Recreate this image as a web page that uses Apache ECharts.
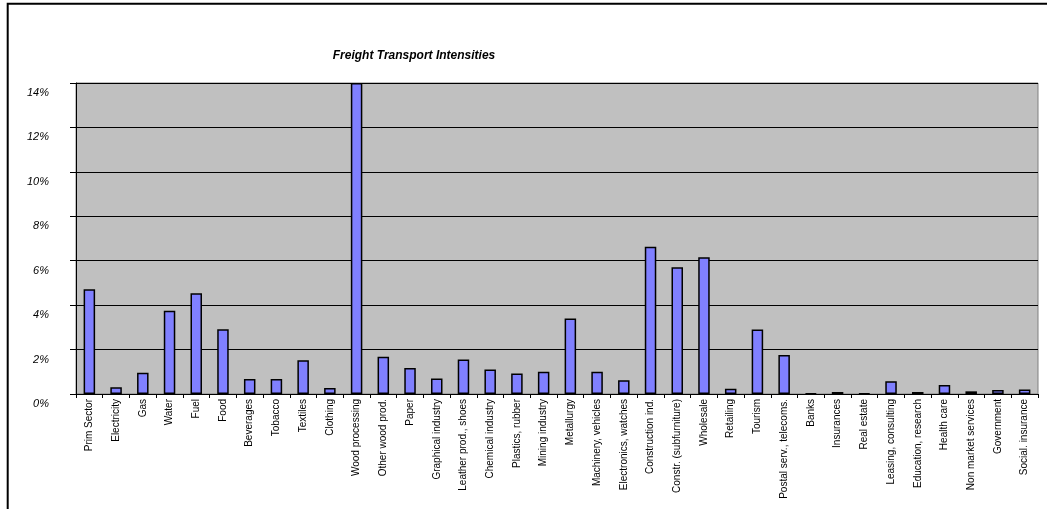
<!DOCTYPE html>
<html>
<head>
<meta charset="utf-8">
<script src="https://cdn.jsdelivr.net/npm/echarts@6/dist/echarts.min.js"></script>
<style>
html,body{margin:0;padding:0;background:#fff;}
#chart{width:1047px;height:509px;}
</style>
</head>
<body>
<div id="chart"></div>
<script>
const categories = ["Prim Sector","Electricity","Gas","Water","Fuel","Food","Beverages","Tobacco","Textiles","Clothing","Wood processing","Other wood prod.","Paper","Graphical industry","Leather prod., shoes","Chemical industry","Plastics, rubber","Mining industry","Metallurgy","Machinery, vehicles","Electronics, watches","Construction ind.","Constr. (subfurniture)","Wholesale","Retailing","Tourism","Postal serv., telecoms.","Banks","Insurances","Real estate","Leasing, consulting","Education, research","Health care","Non market services","Government","Social. insurance"];
const intensities = [4.72,0.30,0.96,3.75,4.53,2.91,0.68,0.68,1.52,0.27,14.0,1.68,1.17,0.70,1.55,1.10,0.92,1.00,3.40,1.00,0.62,6.63,5.71,6.16,0.24,2.90,1.76,0.03,0.09,0.03,0.57,0.09,0.40,0.12,0.18,0.20];
const yTicks = {min:0, max:14, interval:2};
const titleText = "Freight Transport Intensities";

const chart = echarts.init(document.getElementById('chart'), null, {renderer:'canvas'});
chart.setOption({
  animation:false,
  backgroundColor:'#ffffff',
  title:{
    text:titleText, left:409, top:45, textAlign:'center',
    textStyle:{fontFamily:'Liberation Sans, Arial, sans-serif', fontSize:12, fontWeight:'bold', fontStyle:'italic', color:'#000'}
  },
  graphic:[{
    type:'rect', silent:true, z:-1,
    shape:{x:7.7, y:3.8, width:1100, height:600},
    style:{fill:'none', stroke:'#000', lineWidth:2}
  }],
  grid:{left:76, right:9, top:83, bottom:115, show:true, backgroundColor:'#C0C0C0', borderColor:'#808080', borderWidth:1},
  xAxis:{
    type:'category', data:categories, boundaryGap:true,
    axisLine:{show:true, lineStyle:{color:'#000', width:1}},
    axisTick:{show:true, alignWithLabel:false, length:4, inside:false, lineStyle:{color:'#000'}},
    axisLabel:{interval:0, rotate:90, margin:5, fontFamily:'Liberation Sans, Arial, sans-serif', fontSize:10, color:'#000'},
    splitLine:{show:false}
  },
  yAxis:{
    type:'value', min:yTicks.min, max:yTicks.max, interval:yTicks.interval,
    axisLine:{show:true, lineStyle:{color:'#000'}},
    axisTick:{show:true, length:6, lineStyle:{color:'#000'}},
    axisLabel:{formatter:'{value}%', margin:27, fontFamily:'Liberation Sans, Arial, sans-serif', fontSize:11, fontStyle:'italic', color:'#000', verticalAlign:'top', lineHeight:20},
    splitLine:{show:true, lineStyle:{color:'#000', width:1}}
  },
  series:[{
    type:'bar', data:intensities, barWidth:11.5,
    itemStyle:{color:'#8080FF', borderColor:'#000', borderWidth:1.5},
    clip:true
  }]
});
</script>
</body>
</html>
